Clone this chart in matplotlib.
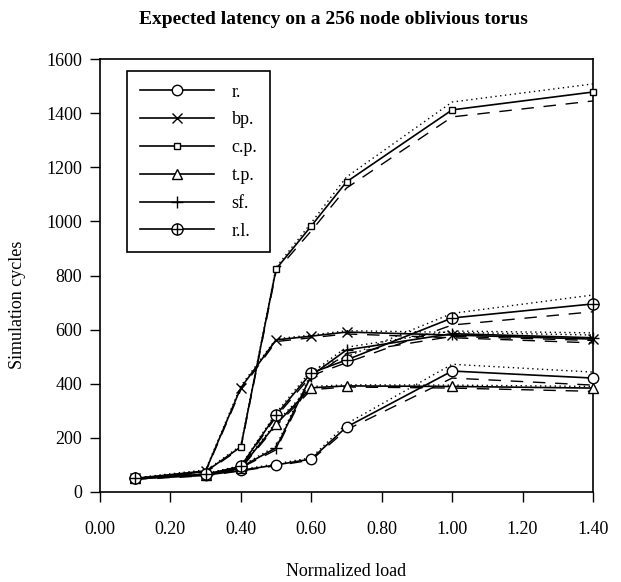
import matplotlib
matplotlib.use("Agg")
import matplotlib.pyplot as plt

plt.rcParams['font.family'] = ['Liberation Serif', 'DejaVu Serif']

loads = [0.10, 0.30, 0.40, 0.50, 0.60, 0.70, 1.00, 1.40]
x_ticks = [0.0, 0.2, 0.4, 0.6, 0.8, 1.0, 1.2, 1.4]
y_ticks = [0, 200, 400, 600, 800, 1000, 1200, 1400, 1600]

names = ["r.", "bp.", "c.p.", "t.p.", "sf.", "r.l."]

# mean latency per policy
r_mean = [50, 62, 80, 100, 122, 240, 447, 421]
bp_mean = [50, 78, 385, 562, 576, 591, 580, 565]
cp_mean = [50, 75, 167, 824, 983, 1146, 1412, 1478]
tp_mean = [50, 62, 90, 251, 385, 392, 390, 384]
sf_mean = [50, 65, 92, 163, 430, 525, 585, 570]
rl_mean = [50, 65, 95, 285, 440, 488, 643, 695]

# upper bounds (dotted)
r_hi = [52, 64, 83, 104, 127, 252, 472, 443]
bp_hi = [52, 82, 392, 566, 580, 596, 590, 580]
cp_hi = [52, 78, 172, 830, 995, 1164, 1441, 1508]
tp_hi = [52, 64, 93, 258, 390, 396, 395, 390]
sf_hi = [52, 67, 95, 170, 440, 535, 595, 588]
rl_hi = [52, 67, 98, 292, 450, 500, 660, 728]

# lower bounds (dashed)
r_lo = [48, 60, 78, 97, 118, 230, 421, 395]
bp_lo = [48, 75, 378, 556, 570, 584, 570, 551]
cp_lo = [48, 72, 162, 815, 965, 1123, 1386, 1445]
tp_lo = [48, 60, 87, 244, 378, 388, 384, 372]
sf_lo = [48, 63, 89, 156, 420, 512, 575, 560]
rl_lo = [48, 63, 92, 278, 430, 478, 617, 666]

means = [r_mean, bp_mean, cp_mean, tp_mean, sf_mean, rl_mean]
highs = [r_hi, bp_hi, cp_hi, tp_hi, sf_hi, rl_hi]
lows = [r_lo, bp_lo, cp_lo, tp_lo, sf_lo, rl_lo]

marker_styles = [
    dict(marker='o', ms=7.5, mfc='white'),
    dict(marker='x', ms=7.5, mfc='none', mew=1.0),
    dict(marker='s', ms=5, mfc='white'),
    dict(marker='^', ms=7.5, mfc='white'),
    dict(marker='+', ms=9, mfc='none', mew=1.0),
    dict(marker='o', ms=8, mfc='white'),
]

fig = plt.figure(figsize=(6.21, 5.82), dpi=100)
ax = fig.add_axes([100 / 621, 1 - 492 / 582, 493 / 621, 433 / 582])

handles = []
for name, m, hi, lo, ms in zip(names, means, highs, lows, marker_styles):
    ax.plot(loads, hi, color='black', lw=1.0, ls=(0, (1, 2.5)), clip_on=False)
    ax.plot(loads, lo, color='black', lw=1.0, ls=(0, (9, 7)), clip_on=False)
    line, = ax.plot(loads, m, color='black', lw=1.2, mec='black',
                    clip_on=False, zorder=3, **ms)
    if name == "r.l.":
        # circled plus: cross drawn over the open circle
        cross, = ax.plot(loads, m, ls='none', marker='+', ms=8, mew=1.0,
                         color='black', clip_on=False, zorder=4)
        handles.append((line, cross))
    else:
        handles.append(line)

ax.set_xlim(0, 1.4)
ax.set_ylim(0, 1600)
ax.set_xticks(x_ticks)
ax.set_xticklabels([f"{v:.2f}" for v in x_ticks])
ax.set_yticks(y_ticks)
ax.tick_params(axis='both', direction='out', length=7, width=1.0,
               labelsize=13, colors='black')
ax.tick_params(axis='x', pad=14)
ax.tick_params(axis='y', pad=6)
for sp in ax.spines.values():
    sp.set_linewidth(1.2)
    sp.set_color('black')

leg = ax.legend(handles, names, loc='upper left',
                bbox_to_anchor=(27 / 493, (492 - 71) / 433),
                borderaxespad=0, fancybox=False, edgecolor='black',
                framealpha=1, fontsize=13, handlelength=4.1,
                handletextpad=1.0, labelspacing=0.6, borderpad=0.7)
leg.get_frame().set_linewidth(1.2)

fig.text(333 / 621, 1 - 20 / 582, "Expected latency on a 256 node oblivious torus",
         ha='center', va='center', fontsize=14, fontweight='bold')
fig.text(346 / 621, 1 - 572 / 582, "Normalized load", ha='center', va='center',
         fontsize=13)
fig.text(18 / 621, 1 - 305 / 582, "Simulation cycles", ha='center', va='center',
         rotation=90, fontsize=13)

fig.savefig("out.png", dpi=100)
